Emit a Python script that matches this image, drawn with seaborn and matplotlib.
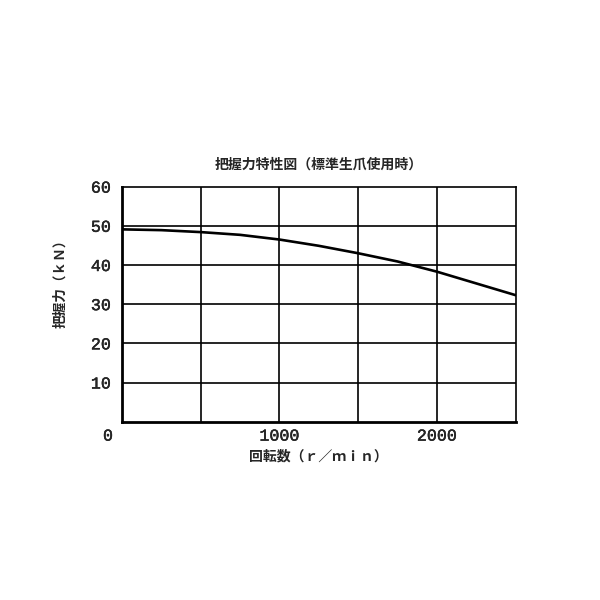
import matplotlib
matplotlib.use("Agg")
import matplotlib.pyplot as plt
import matplotlib.transforms as mtransforms
import matplotlib.patheffects as pe
import seaborn as sns
import pandas as pd

rpm = [0, 250, 500, 750, 1000, 1250, 1500, 1750, 2000, 2250, 2500]
force = [49.1, 48.9, 48.4, 47.7, 46.5, 44.9, 43.0, 40.9, 38.3, 35.3, 32.3]
y_ticks = [10, 20, 30, 40, 50, 60]
y_labels = ["10", "20", "30", "40", "50", "60"]
x_ticks = [0, 1000, 2000]
x_labels = ["0", "1000", "2000"]
title = "把握力特性図（標準生爪使用時）"
xlabel = "回転数（ｒ／ｍｉｎ）"
ylabel = "把握力（ｋＮ）"

sns.set_theme(style="white")
plt.rcParams['font.family'] = ['Noto Sans CJK JP', 'DejaVu Sans']
num_font = ['Liberation Mono', 'DejaVu Sans Mono']

df = pd.DataFrame({"rpm": rpm, "force": force})

fig = plt.figure(figsize=(6, 6), dpi=100)
ax = fig.add_axes([0.2033, 0.2972, 0.656, 0.3917])
sns.lineplot(data=df, x="rpm", y="force", color="black", linewidth=1.9, ax=ax)

ax.set_xlim(0, 2500)
ax.set_ylim(0, 60)
for xv in [500, 1000, 1500, 2000]:
    ax.axvline(xv, color="black", linewidth=1.2, zorder=1)
for yv in [10, 20, 30, 40, 50]:
    ax.axhline(yv, color="black", linewidth=1.2, zorder=1)

thick = [pe.withStroke(linewidth=0.3, foreground="black")]
ax.set_xticks(x_ticks)
ax.set_xticklabels(x_labels, fontsize=12, family=num_font, path_effects=thick)
ax.set_yticks(y_ticks)
ax.set_yticklabels(y_labels, fontsize=12, family=num_font, path_effects=thick)
ax.tick_params(axis="x", length=0, pad=5)
ax.tick_params(axis="y", length=0, pad=8)
xl = ax.get_xticklabels()
xl[0].set_transform(xl[0].get_transform() + mtransforms.ScaledTranslation(-14 / 100, 0, fig.dpi_scale_trans))

for side in ["left", "bottom"]:
    ax.spines[side].set_linewidth(2.0)
for side in ["right", "top"]:
    ax.spines[side].set_linewidth(1.2)
for s in ax.spines.values():
    s.set_color("black")

ax.set_title(title, fontsize=10, fontweight="bold", pad=13)
ax.set_xlabel(xlabel, fontsize=10, fontweight="bold", labelpad=4)
ax.set_ylabel(ylabel, fontsize=9.8, fontweight="bold")
ax.yaxis.set_label_coords(-0.138, 0.6)

fig.savefig("out.png", dpi=100, facecolor="white")
